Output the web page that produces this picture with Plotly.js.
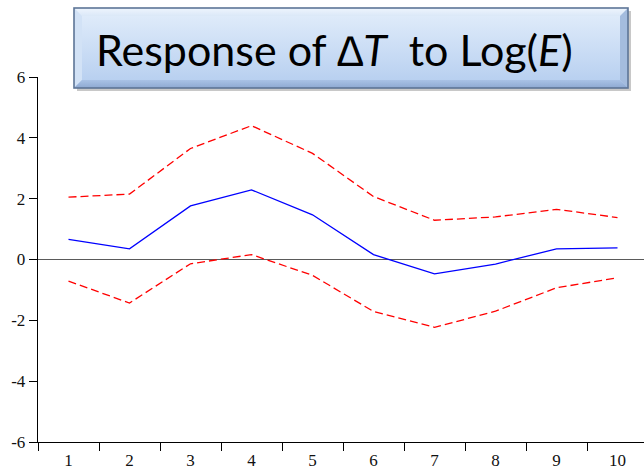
<!DOCTYPE html>
<html>
<head>
<meta charset="utf-8">
<script src="https://cdn.plot.ly/plotly-3.0.1.min.js"></script>
<style>html,body{margin:0;padding:0;background:#fff;}#chart{width:644px;height:469px;}</style>
</head>
<body>
<div id="chart"></div>
<script>
const periods = ["1","2","3","4","5","6","7","8","9","10"];
const response = [0.66, 0.35, 1.76, 2.29, 1.47, 0.16, -0.47, -0.15, 0.35, 0.38];
const upperBand = [2.05, 2.15, 3.65, 4.40, 3.49, 2.07, 1.29, 1.40, 1.65, 1.38];
const lowerBand = [-0.71, -1.43, -0.14, 0.16, -0.52, -1.71, -2.23, -1.70, -0.93, -0.60];
const yTickVals = [-6, -4, -2, 0, 2, 4, 6];
const yTickText = ["-6", "-4", "-2", "0", "2", "4", "6"];
const titleText = "Response of <i>\u2206T</i>\u00a0\u00a0to Log(<i>E</i>)";

const W = 644, H = 469, ML = 38, MR = 0, MT = 77, MB = 27;
const pw = W - ML - MR, ph = H - MT - MB;
function px2x(p){ return (p - ML) / pw; }
function py2y(p){ return (H - MB - p) / ph; }

// Title box graphic (bevelled, gradient) as an inline SVG image
const bw = 554, bh = 80, bev = 8;
const svg = `<svg xmlns="http://www.w3.org/2000/svg" width="${bw+6}" height="${bh+6}" viewBox="0 0 ${bw+6} ${bh+6}">
<defs>
<linearGradient id="g" x1="0" y1="0" x2="0" y2="1">
<stop offset="0" stop-color="#e3eefb"/><stop offset="1" stop-color="#b4cdef"/></linearGradient>
<linearGradient id="gt" x1="0" y1="0" x2="0" y2="1">
<stop offset="0" stop-color="#eef5fd"/><stop offset="1" stop-color="#dbe8f8"/></linearGradient>
<linearGradient id="gb" x1="0" y1="0" x2="0" y2="1">
<stop offset="0" stop-color="#a9c2e6"/><stop offset="1" stop-color="#8ea9d2"/></linearGradient>
</defs>
<rect x="4" y="4" width="${bw}" height="${bh}" fill="#9a9a9a" opacity="0.55"/>
<rect x="1" y="1" width="${bw}" height="${bh}" fill="url(#g)"/>
<polygon points="1,1 ${bw+1},1 ${bw+1-bev},${1+bev} ${1+bev},${1+bev}" fill="url(#gt)"/>
<polygon points="1,1 ${1+bev},${1+bev} ${1+bev},${bh+1-bev} 1,${bh+1}" fill="#d2e2f6"/>
<polygon points="${bw+1},1 ${bw+1},${bh+1} ${bw+1-bev},${bh+1-bev} ${bw+1-bev},${1+bev}" fill="#a4bcde"/>
<polygon points="1,${bh+1} ${1+bev},${bh+1-bev} ${bw+1-bev},${bh+1-bev} ${bw+1},${bh+1}" fill="url(#gb)"/>
<rect x="1" y="1" width="${bw}" height="${bh}" fill="none" stroke="#5d7597" stroke-width="1.6"/>
</svg>`;
const svgUri = "data:image/svg+xml;charset=utf-8," + encodeURIComponent(svg);

const data = [
  {x: periods, y: upperBand, type: "scatter", mode: "lines",
   line: {color: "#ff0000", width: 1.3, dash: "8px,4px"}, hoverinfo: "skip"},
  {x: periods, y: lowerBand, type: "scatter", mode: "lines",
   line: {color: "#ff0000", width: 1.3, dash: "8px,4px"}, hoverinfo: "skip"},
  {x: periods, y: response, type: "scatter", mode: "lines",
   line: {color: "#0000ff", width: 1.3}, hoverinfo: "skip"}
];

const tickFont = {family: "'Liberation Serif', 'Times New Roman', serif", size: 17, color: "#111"};

const layout = {
  width: W, height: H,
  margin: {l: ML, r: MR, t: MT, b: MB, pad: 0},
  paper_bgcolor: "#ffffff", plot_bgcolor: "#ffffff",
  showlegend: false,
  xaxis: {
    type: "category", range: [-0.5, -0.5 + pw / 61],
    tickson: "boundaries", ticks: "outside", ticklen: 8, tickwidth: 1, tickcolor: "#000",
    showline: true, linecolor: "#000", linewidth: 1.3, ticklabelstandoff: 2,
    showgrid: false, zeroline: false, tickfont: tickFont, fixedrange: true
  },
  yaxis: {
    range: [-6, 6], tickmode: "array", tickvals: yTickVals, ticktext: yTickText,
    ticks: "outside", ticklen: 8, tickwidth: 1, tickcolor: "#000",
    showline: true, linecolor: "#000", linewidth: 1.3,
    showgrid: false, zeroline: true, zerolinecolor: "#5a5a5a", zerolinewidth: 1.4,
    tickfont: tickFont, fixedrange: true
  },
  images: [{
    source: svgUri, xref: "paper", yref: "paper",
    x: px2x(73), y: py2y(7), sizex: (bw + 6) / pw, sizey: (bh + 6) / ph,
    sizing: "stretch", xanchor: "left", yanchor: "top", layer: "above"
  }],
  annotations: [{
    text: titleText, xref: "paper", yref: "paper",
    x: px2x(334), y: py2y(50), xanchor: "center", yanchor: "middle",
    showarrow: false,
    font: {family: "Lato, 'Noto Sans', sans-serif", size: 43, color: "#000"}
  }]
};

Plotly.newPlot("chart", data, layout, {staticPlot: true, displayModeBar: false});
</script>
</body>
</html>
